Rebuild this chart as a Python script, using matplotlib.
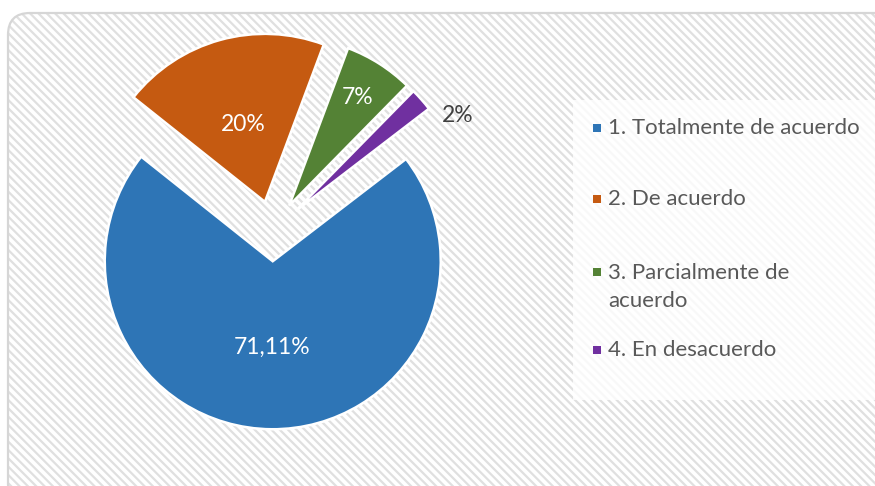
import numpy as np
import matplotlib
matplotlib.use("Agg")
import matplotlib.pyplot as plt
from matplotlib.patches import FancyBboxPatch, Rectangle

# Data
categories = ["1. Totalmente de acuerdo", "2. De acuerdo",
              "3. Parcialmente de\nacuerdo", "4. En desacuerdo"]
counts = [32, 9, 3, 1]
pct_labels = ["71,11%", "20%", "7%", "2%"]
colors = ["#2E75B6", "#C55A11", "#548235", "#7030A0"]

plt.rcParams['font.family'] = ['Lato', 'DejaVu Sans']
plt.rcParams['hatch.linewidth'] = 1.6

W, H = 875, 486
fig = plt.figure(figsize=(W / 100, H / 100), dpi=100)
ax = fig.add_axes([0, 0, 1, 1])

# Pie (axes units are pixels, y up); explode is in data units here
cx, cy, R = 273, H - 231, 168
wedges, _ = ax.pie(counts, colors=colors, startangle=37.5, counterclock=False,
                   explode=[0.18 * R] * 4, radius=R, center=(cx, cy),
                   wedgeprops=dict(edgecolor="white", linewidth=1.8))
for w in wedges:
    w.set_zorder(3)

# Percentage labels: (distance as fraction of radius, angle shift, colour)
label_pos = [(0.51, 0, "white"), (0.48, 0, "white"),
             (0.76, 0, "white"), (1.12, -11, "#404040")]
for w, txt, (d, shift, col) in zip(wedges, pct_labels, label_pos):
    ang = np.radians((w.theta1 + w.theta2) / 2 + shift)
    x0, y0 = w.center
    ax.text(x0 + d * R * np.cos(ang), y0 + d * R * np.sin(ang), txt,
            color=col, fontsize=16.5, ha="center", va="center", zorder=5)

ax.set_xlim(0, W)
ax.set_ylim(0, H)
ax.set_aspect("equal")
ax.axis("off")

# Background: hatched rounded panel
bg = FancyBboxPatch((8, -20), 900, H - 13 + 20, boxstyle="round,pad=0,rounding_size=22",
                    facecolor="white", edgecolor="#e0e0e0", linewidth=0,
                    hatch="\\\\\\\\", zorder=0)
ax.add_patch(bg)
border = FancyBboxPatch((8, -20), 900, H - 13 + 20, boxstyle="round,pad=0,rounding_size=22",
                        facecolor="none", edgecolor="#d6d6d6", linewidth=1.6, zorder=1)
ax.add_patch(border)

# Legend panel
ax.add_patch(Rectangle((573, H - 400), 310, 300, facecolor="white",
                       edgecolor="none", alpha=0.8, zorder=2))
marker_y = [128, 199, 272, 350]
text_y = [128, 199, 287, 350]
for lab, col, my, ty in zip(categories, colors, marker_y, text_y):
    ax.add_patch(Rectangle((593, H - my - 4), 8, 8, facecolor=col,
                           edgecolor="none", zorder=4))
    ax.text(608, H - ty, lab, color="#595959", fontsize=16, ha="left",
            va="center", linespacing=1.45, zorder=4)

fig.savefig("out.png", dpi=100, facecolor="white")
